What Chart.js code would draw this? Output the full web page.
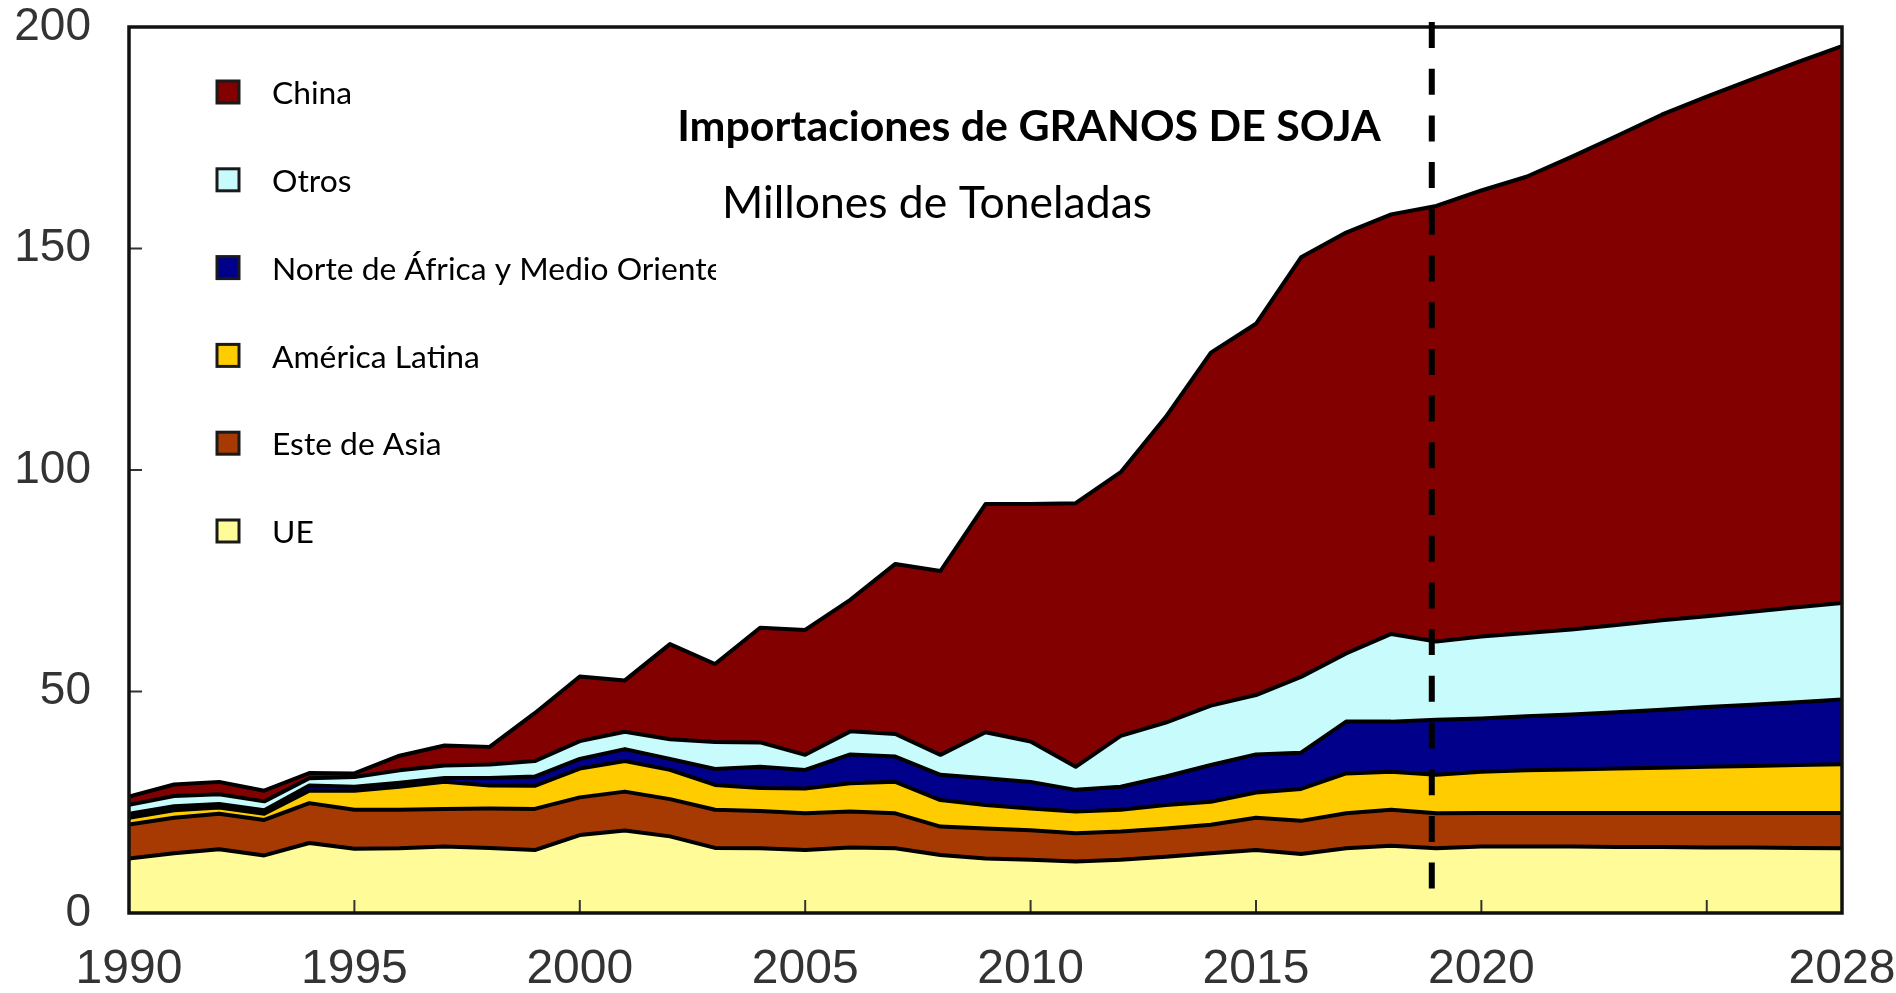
<!DOCTYPE html>
<html>
<head>
<meta charset="utf-8">
<title>Importaciones de granos de soja</title>
<script src="https://cdn.jsdelivr.net/npm/chart.js@4.4.1/dist/chart.umd.min.js"></script>
<style>
  html, body { margin: 0; padding: 0; background: #fff; }
  canvas { display: block; }
</style>
</head>
<body>
<canvas id="sojaChart" width="1896" height="993"></canvas>
<script>
// Millones de toneladas, por region (capas apiladas de abajo hacia arriba)
const years = [1990, 1991, 1992, 1993, 1994, 1995, 1996, 1997, 1998, 1999,
    2000, 2001, 2002, 2003, 2004, 2005, 2006, 2007, 2008, 2009,
    2010, 2011, 2012, 2013, 2014, 2015, 2016, 2017, 2018, 2019,
    2020, 2021, 2022, 2023, 2024, 2025, 2026, 2027, 2028];

const ue = [12.3, 13.5, 14.4, 13.0, 15.8, 14.5, 14.6, 15.0, 14.7, 14.2,
    17.6, 18.6, 17.3, 14.7, 14.6, 14.2, 14.8, 14.6, 13.1, 12.3,
    12.0, 11.6, 12.0, 12.7, 13.5, 14.2, 13.3, 14.6, 15.2, 14.6,
    15.0, 15.0, 15.0, 14.9, 14.9, 14.8, 14.8, 14.7, 14.6];
const esteAsia = [7.7, 8.0, 8.0, 8.0, 9.0, 8.8, 8.7, 8.5, 8.9, 9.3,
    8.5, 8.8, 8.4, 8.6, 8.4, 8.3, 8.1, 7.9, 6.4, 6.8,
    6.7, 6.4, 6.4, 6.4, 6.4, 7.3, 7.5, 7.9, 8.1, 7.9,
    7.6, 7.6, 7.6, 7.7, 7.7, 7.8, 7.8, 7.9, 8.0];
const americaLatina = [1.5, 1.7, 1.4, 1.4, 2.8, 4.3, 5.2, 6.1, 5.2, 5.2,
    6.5, 6.9, 6.6, 5.6, 5.2, 5.6, 6.4, 7.1, 6.0, 5.3,
    4.9, 4.9, 4.9, 5.3, 5.2, 5.7, 7.2, 9.0, 8.6, 8.7,
    9.3, 9.6, 9.8, 10.0, 10.2, 10.4, 10.6, 10.8, 11.0];
const norteAfrica = [0.9, 0.9, 0.8, 0.8, 1.2, 0.9, 0.9, 0.9, 1.7, 2.1,
    2.2, 2.7, 2.5, 3.6, 4.8, 4.2, 6.5, 5.7, 5.7, 6.0,
    6.0, 4.9, 5.2, 6.4, 8.3, 8.6, 8.2, 11.7, 11.3, 12.4,
    12.0, 12.2, 12.4, 12.7, 13.1, 13.5, 13.8, 14.2, 14.6];
const otros = [2.0, 2.3, 2.2, 2.0, 1.6, 2.2, 2.8, 2.8, 3.0, 3.5,
    4.0, 3.9, 4.4, 6.1, 5.5, 3.4, 5.2, 5.1, 4.5, 10.4,
    9.1, 5.2, 11.5, 12.2, 13.4, 13.4, 17.1, 15.4, 19.8, 17.7,
    18.5, 18.8, 19.2, 19.7, 20.2, 20.5, 21.0, 21.4, 21.8];
const china = [1.9, 2.6, 2.8, 2.4, 1.2, 0.8, 3.3, 4.5, 4.0, 10.8,
    14.6, 11.6, 21.5, 17.6, 25.9, 28.2, 29.7, 38.4, 41.5, 51.5,
    53.6, 59.5, 59.5, 69.0, 79.7, 83.8, 94.7, 95.0, 94.7, 98.3,
    100.7, 103.0, 106.7, 110.4, 114.1, 117.3, 120.2, 123.0, 125.7];

const yTicks = [0, 50, 100, 150, 200];
const xTicks = [1990, 1995, 2000, 2005, 2010, 2015, 2020, 2025, 2028];
const unlabeledYears = [2025];
const projectionYear = 2018.9;

const chartTitle = 'Importaciones de GRANOS DE SOJA';
const chartSubtitle = 'Millones de Toneladas';

const series = [
    { label: 'UE', values: ue, color: '#fffb98' },
    { label: 'Este de Asia', values: esteAsia, color: '#a63a02' },
    { label: 'América Latina', values: americaLatina, color: '#ffcc00' },
    { label: 'Norte de África y Medio Oriente', values: norteAfrica, color: '#00008a' },
    { label: 'Otros', values: otros, color: '#c8fbfb' },
    { label: 'China', values: china, color: '#820000' }
];

const textFont = 'Lato, "Open Sans", sans-serif';
const tickFont = '"Liberation Sans", Arial, sans-serif';

// size a font so that the text takes a given width
function fitFont(ctx, text, weight, width) {
    ctx.font = weight + ' 100px ' + textFont;
    const w = ctx.measureText(text).width;
    return Math.round(100 * width / w * 10) / 10;
}

const framePlugin = {
    id: 'frame',
    afterDatasetsDraw(chart) {
        const { ctx, chartArea: a, scales: { x, y } } = chart;
        ctx.save();
        // inward tick marks
        ctx.strokeStyle = '#333';
        ctx.lineWidth = 2;
        x.ticks.forEach(t => {
            if (t.value <= x.min || t.value >= x.max) return;
            const px = x.getPixelForValue(t.value);
            ctx.beginPath();
            ctx.moveTo(px, a.bottom);
            ctx.lineTo(px, a.bottom - 13);
            ctx.stroke();
        });
        y.ticks.forEach(t => {
            if (t.value <= y.min || t.value >= y.max) return;
            const py = y.getPixelForValue(t.value);
            ctx.beginPath();
            ctx.moveTo(a.left, py);
            ctx.lineTo(a.left + 13, py);
            ctx.stroke();
        });
        // plot frame
        ctx.strokeStyle = '#111';
        ctx.lineWidth = 3.5;
        ctx.strokeRect(a.left, a.top, a.right - a.left, a.bottom - a.top);
        // start of the projection
        const px = x.getPixelForValue(projectionYear);
        ctx.strokeStyle = '#000';
        ctx.lineWidth = 6;
        ctx.setLineDash([26, 20.7]);
        ctx.beginPath();
        ctx.moveTo(px, a.top - 5);
        ctx.lineTo(px, a.bottom - 24);
        ctx.stroke();
        ctx.restore();
    },
    afterDraw(chart) {
        const { ctx, chartArea: a } = chart;
        ctx.save();
        ctx.fillStyle = '#000';
        ctx.textAlign = 'center';
        ctx.textBaseline = 'alphabetic';
        ctx.font = 'bold ' + fitFont(ctx, chartTitle, 'bold', 704) + 'px ' + textFont;
        ctx.fillText(chartTitle, 1029, a.top + 114);
        ctx.font = fitFont(ctx, chartSubtitle, 'normal', 430) + 'px ' + textFont;
        ctx.fillText(chartSubtitle, 937, a.top + 191);

        // legend, China first; long label is cut by the title box
        const size = fitFont(ctx, 'Norte de África y Medio Oriente', 'normal', 452);
        ctx.beginPath();
        ctx.rect(0, 0, 716, chart.height);
        ctx.clip();
        ctx.textAlign = 'left';
        ctx.textBaseline = 'middle';
        ctx.font = size + 'px ' + textFont;
        const items = chart.data.datasets.slice().reverse();
        items.forEach((ds, i) => {
            const cy = a.top + 66 + i * 87.8;
            ctx.fillStyle = ds.backgroundColor;
            ctx.fillRect(217, cy - 12, 22, 22);
            ctx.strokeStyle = '#1a1a1a';
            ctx.lineWidth = 3;
            ctx.strokeRect(217, cy - 12, 22, 22);
            ctx.fillStyle = '#000';
            ctx.fillText(ds.label, 272, cy + 1);
        });
        ctx.restore();
    }
};

const datasets = series.map((s, i) => ({
    label: s.label,
    data: years.map((yr, j) => ({ x: yr, y: s.values[j] })),
    backgroundColor: s.color,
    borderColor: '#000',
    borderWidth: 4,
    borderJoinStyle: 'round',
    pointRadius: 0,
    tension: 0,
    fill: i === 0 ? 'origin' : '-1'
}));

new Chart(document.getElementById('sojaChart'), {
    type: 'line',
    data: { datasets: datasets },
    options: {
        responsive: false,
        devicePixelRatio: 1,
        animation: false,
        layout: { padding: { left: 0, right: 54, top: 27, bottom: 0 } },
        plugins: {
            legend: { display: false },
            tooltip: { enabled: false }
        },
        scales: {
            x: {
                type: 'linear',
                min: 1990,
                max: 2028,
                afterBuildTicks: scale => { scale.ticks = xTicks.map(v => ({ value: v })); },
                afterFit: scale => { scale.height = 80; scale.paddingLeft = 0; scale.paddingRight = 0; },
                ticks: {
                    autoSkip: false,
                    maxRotation: 0,
                    padding: 28,
                    color: '#333',
                    font: { family: tickFont, size: 48 },
                    callback: v => unlabeledYears.includes(v) ? '' : String(v)
                },
                grid: { display: false, drawTicks: false },
                border: { display: false }
            },
            y: {
                stacked: true,
                min: 0,
                max: 200,
                afterBuildTicks: scale => { scale.ticks = yTicks.map(v => ({ value: v })); },
                afterFit: scale => { scale.width = 129; scale.paddingTop = 0; scale.paddingBottom = 0; },
                ticks: {
                    padding: 38,
                    color: '#333',
                    font: { family: tickFont, size: 46 }
                },
                grid: { display: false, drawTicks: false },
                border: { display: false }
            }
        }
    },
    plugins: [framePlugin]
});
</script>
</body>
</html>
